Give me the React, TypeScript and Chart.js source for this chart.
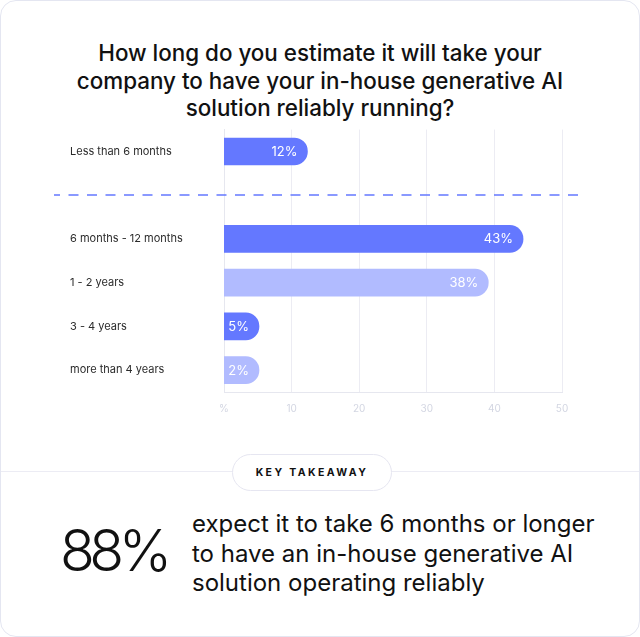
import { useEffect, useRef } from 'react'
import { Chart, ChartConfiguration, registerables } from 'chart.js'

Chart.register(...registerables)

// data
const categories = [
  'Less than 6 months',
  '', // spacer row under the dashed separator
  '6 months - 12 months',
  '1 - 2 years',
  '3 - 4 years',
  'more than 4 years',
]
const values: (number | null)[] = [12, null, 43, 38, 5, 2]
const xTicks = [0, 10, 20, 30, 40, 50]
const barColors = ['#6478ff', 'transparent', '#6478ff', '#b1bbff', '#6478ff', '#b1bbff']

const FONT = 'Inter, "Noto Sans", sans-serif'

const barLook = {
  id: 'barLook',
  beforeDatasetsDraw(chart: any) {
    // short bars still need room for their label
    chart.getDatasetMeta(0).data.forEach((el: any) => {
      if (el.skip) return
      el.x = Math.max(el.x, el.base + 35)
    })
  },
  afterDatasetsDraw(chart: any) {
    const { ctx } = chart
    ctx.save()
    ctx.fillStyle = '#ffffff'
    ctx.font = `400 13px ${FONT}`
    ctx.textAlign = 'right'
    ctx.textBaseline = 'middle'
    chart.getDatasetMeta(0).data.forEach((el: any, i: number) => {
      const v = values[i]
      if (v == null) return
      ctx.fillText(`${v}%`, el.x - 10, el.y + 0.5)
    })
    ctx.restore()
  },
  afterDraw(chart: any) {
    const { ctx } = chart
    const y = Math.round(chart.scales.y.getPixelForValue(1))
    ctx.save()
    ctx.strokeStyle = 'rgb(100, 120, 255)'
    ctx.lineWidth = 1.5
    ctx.setLineDash([10, 8.5])
    ctx.lineDashOffset = 4
    ctx.beginPath()
    ctx.moveTo(54, y)
    ctx.lineTo(586, y)
    ctx.stroke()
    ctx.restore()
  },
}

function BarChart() {
  const canvasRef = useRef<HTMLCanvasElement>(null)
  const chartRef = useRef<Chart | null>(null)

  useEffect(() => {
    if (!canvasRef.current) return
    const ctx = canvasRef.current.getContext('2d')
    if (!ctx) return
    chartRef.current?.destroy()

    const config: ChartConfiguration = {
      type: 'bar',
      data: {
        labels: categories,
        datasets: [
          {
            data: values as any,
            xAxisID: 'xb',
            backgroundColor: barColors,
            barThickness: 27,
            borderRadius: 14,
            borderSkipped: 'start',
          },
        ],
      },
      options: {
        indexAxis: 'y',
        animation: false,
        responsive: true,
        maintainAspectRatio: false,
        layout: { padding: { top: 8, left: 70, right: 78, bottom: 0 } },
        plugins: {
          legend: { display: false },
          tooltip: { enabled: false },
        },
        scales: {
          x: {
            type: 'linear',
            position: 'bottom',
            min: 0,
            max: 50,
            grid: { color: '#ececf3', drawTicks: false },
            border: { color: '#e6e7ef' },
            ticks: {
              color: '#d3d6e2',
              font: { family: FONT, size: 10 },
              padding: 11,
              callback: (v: any) => (v === 0 ? '%' : String(v)),
            },
            afterBuildTicks: (s: any) => {
              s.ticks = xTicks.map((value) => ({ value }))
            },
            afterFit: (s: any) => {
              s.height = 30
            },
          },
          // bars are drawn on their own slightly narrower scale
          xb: {
            type: 'linear',
            min: 0,
            max: 48.6,
            display: false,
          },
          y: {
            type: 'category',
            offset: true,
            grid: { display: false },
            border: { color: '#e6e7ef' },
            ticks: {
              crossAlign: 'far',
              color: '#2b2b2b',
              font: { family: FONT, size: 11 },
            },
            afterFit: (s: any) => {
              s.width = 154
            },
          },
        },
      },
      plugins: [barLook],
    }

    chartRef.current = new Chart(ctx, config)
    return () => {
      chartRef.current?.destroy()
      chartRef.current = null
    }
  }, [])

  return (
    <div style={{ position: 'absolute', left: -1, top: 119, width: 640, height: 302 }}>
      <canvas ref={canvasRef} />
    </div>
  )
}

export default function App() {
  return (
    <>
      <style>{'body{margin:0}'}</style>
      <div
        style={{
          position: 'relative',
          width: 640,
          height: 637,
          boxSizing: 'border-box',
          border: '1px solid #e4e6f1',
          borderRadius: 16,
          background: '#fff',
          overflow: 'hidden',
          fontFamily: FONT,
          color: '#111',
        }}
      >
        <div
          style={{
            position: 'absolute',
            top: 38,
            left: 0,
            right: 0,
            textAlign: 'center',
            fontSize: 22.4,
            lineHeight: '27.5px',
            fontWeight: 500,
          }}
        >
          How long do you estimate it will take your
          <br />
          company to have your in-house generative AI
          <br />
          solution reliably running?
        </div>

        <BarChart />

        <div style={{ position: 'absolute', top: 470, left: 0, right: 0, height: 1, background: '#ececf4' }} />
        <div
          style={{
            position: 'absolute',
            left: 231,
            top: 453,
            width: 160,
            height: 37,
            boxSizing: 'border-box',
            border: '1px solid #e6e6f1',
            borderRadius: 19,
            background: '#fff',
            display: 'flex',
            alignItems: 'center',
            justifyContent: 'center',
            fontSize: 10.5,
            fontWeight: 700,
            letterSpacing: 2.4,
          }}
        >
          KEY TAKEAWAY
        </div>

        <div
          style={{
            position: 'absolute',
            left: 59,
            top: 521,
            fontSize: 57,
            lineHeight: 1,
            fontWeight: 300,
            letterSpacing: -5.5,
          }}
        >
          88%
        </div>
        <div
          style={{
            position: 'absolute',
            left: 191,
            top: 508,
            fontSize: 24,
            lineHeight: '29.5px',
            fontWeight: 400,
          }}
        >
          expect it to take 6 months or longer
          <br />
          to have an in-house generative AI
          <br />
          solution operating reliably
        </div>
      </div>
    </>
  )
}
